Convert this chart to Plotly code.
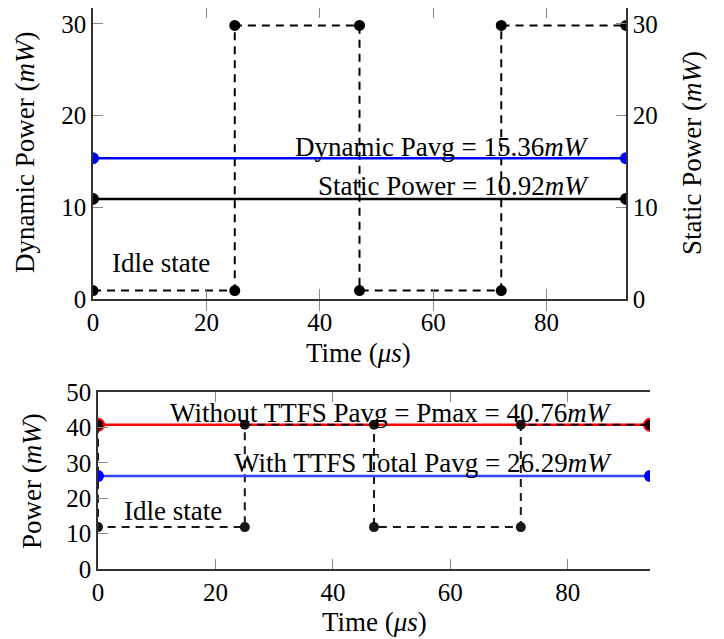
import plotly.graph_objects as go

# ---- data ----
t_dyn = [0, 25, 25, 47, 47, 72, 72, 94]
p_dyn = [0.92, 0.92, 29.84, 29.84, 0.92, 0.92, 29.84, 29.84]
t_span = [0, 94]
dyn_avg = [15.36, 15.36]
static_p = [10.92, 10.92]

t_tot = [0, 0, 25, 25, 47, 47, 72, 72, 94]
p_tot = [40.76, 11.84, 11.84, 40.76, 40.76, 11.84, 11.84, 40.76, 40.76]
pmax_line = [40.76, 40.76]
ttfs_avg = [26.29, 26.29]

x_ticks = [0, 20, 40, 60, 80]
y_ticks_top = [0, 10, 20, 30]
y_ticks_bot = [0, 10, 20, 30, 40, 50]

W, H = 724, 639
OFF = 8  # default page margin of the html body
FONT = "Liberation Serif"
TICKF = dict(family=FONT, size=25, color="black")
LINEC = "#333333"
TICKC = "#888888"


def px_x(p):
    return min(1.0, max(0.0, (p - OFF) / W))


def px_y(p):
    return min(1.0, max(0.0, 1 - (p - OFF) / H))


fig = go.Figure()

# top plot
fig.add_trace(go.Scatter(x=t_dyn, y=p_dyn, mode="lines+markers",
                         line=dict(color="black", width=2, dash="8px,6px"),
                         marker=dict(color="black", size=11),
                         xaxis="x", yaxis="y", showlegend=False))
fig.add_trace(go.Scatter(x=t_span, y=dyn_avg, mode="lines+markers",
                         line=dict(color="#0000ff", width=2.5),
                         marker=dict(color="#0000ff", size=12),
                         xaxis="x", yaxis="y", showlegend=False))
fig.add_trace(go.Scatter(x=t_span, y=static_p, mode="lines+markers",
                         line=dict(color="black", width=2.5),
                         marker=dict(color="black", size=12),
                         xaxis="x", yaxis="y2", showlegend=False))

# bottom plot
fig.add_trace(go.Scatter(x=t_span, y=pmax_line, mode="lines+markers",
                         line=dict(color="#ff0000", width=2.5),
                         marker=dict(color="#ff0000", size=14),
                         xaxis="x2", yaxis="y3", showlegend=False))
fig.add_trace(go.Scatter(x=t_tot, y=p_tot, mode="lines+markers",
                         line=dict(color="black", width=2, dash="8px,6px"),
                         marker=dict(color="black", size=10),
                         xaxis="x2", yaxis="y3", showlegend=False, opacity=0.9))
fig.add_trace(go.Scatter(x=t_span, y=ttfs_avg, mode="lines+markers",
                         line=dict(color="#3344ff", width=2.5),
                         marker=dict(color="#0000ff", size=12),
                         xaxis="x2", yaxis="y3", showlegend=False))

axis_common = dict(showgrid=False, zeroline=False, showline=True, linecolor=LINEC,
                   linewidth=1.5, ticks="inside", ticklen=10, tickcolor=TICKC,
                   tickwidth=1, tickfont=TICKF, automargin=False)

TOP_RANGE = [0, 31.74]

fig.update_layout(
    width=W, height=H,
    margin=dict(l=0, r=0, t=0, b=0, pad=0, autoexpand=False),
    paper_bgcolor="white", plot_bgcolor="white",
    font=dict(family=FONT, size=24, color="black"),
    xaxis=dict(domain=[px_x(93), px_x(626)], range=[0, 94], tickvals=x_ticks,
               anchor="y", mirror="allticks", **axis_common),
    yaxis=dict(domain=[px_y(299), px_y(8)], range=TOP_RANGE, tickvals=y_ticks_top,
               anchor="x", **axis_common),
    yaxis2=dict(overlaying="y", side="right", range=TOP_RANGE, tickvals=y_ticks_top,
                anchor="x", **axis_common),
    xaxis2=dict(domain=[px_x(98), px_x(650)], range=[0, 94], tickvals=x_ticks,
                anchor="y3", mirror="allticks", **axis_common),
    yaxis3=dict(domain=[px_y(569), px_y(392)], range=[0, 50], tickvals=y_ticks_bot,
                anchor="x2", **axis_common),
)

ann_font = dict(family=FONT, size=27, color="black")
annotations = [
    # in-plot labels, top
    dict(x=87.8, y=16.6, xref="x", yref="y", xanchor="right", yanchor="middle",
         text="Dynamic Pavg = 15.36<i>mW</i>", showarrow=False, font=ann_font),
    dict(x=87.8, y=12.36, xref="x", yref="y", xanchor="right", yanchor="middle",
         text="Static Power = 10.92<i>mW</i>", showarrow=False, font=ann_font),
    dict(x=3.0, y=3.9, xref="x", yref="y", xanchor="left", yanchor="middle",
         text="Idle state", showarrow=False, font=ann_font),
    # in-plot labels, bottom
    dict(x=87.9, y=44.1, xref="x2", yref="y3", xanchor="right", yanchor="middle",
         text="Without TTFS Pavg = Pmax = 40.76<i>mW</i>", showarrow=False, font=ann_font),
    dict(x=87.9, y=29.9, xref="x2", yref="y3", xanchor="right", yanchor="middle",
         text="With TTFS Total Pavg = 26.29<i>mW</i>", showarrow=False, font=ann_font),
    dict(x=4.1, y=16.4, xref="x2", yref="y3", xanchor="left", yanchor="middle",
         text="Idle state", showarrow=False, font=ann_font),
    # axis titles
    dict(x=px_x(358), y=px_y(353), xref="paper", yref="paper", xanchor="center",
         yanchor="middle", text="Time (<i>μs</i>)", showarrow=False, font=ann_font),
    dict(x=px_x(374), y=px_y(622), xref="paper", yref="paper", xanchor="center",
         yanchor="middle", text="Time (<i>μs</i>)", showarrow=False, font=ann_font),
    dict(x=px_x(25), y=px_y(153), xref="paper", yref="paper", xanchor="center",
         yanchor="middle", text="Dynamic Power (<i>mW</i>)", textangle=-90,
         showarrow=False, font=ann_font),
    dict(x=px_x(692), y=px_y(153), xref="paper", yref="paper", xanchor="center",
         yanchor="middle", text="Static Power (<i>mW</i>)", textangle=-90,
         showarrow=False, font=ann_font),
    dict(x=px_x(32), y=px_y(481), xref="paper", yref="paper", xanchor="center",
         yanchor="middle", text="Power (<i>mW</i>)", textangle=-90,
         showarrow=False, font=ann_font),
]
fig.update_layout(annotations=annotations)

fig.write_html("out.html")
